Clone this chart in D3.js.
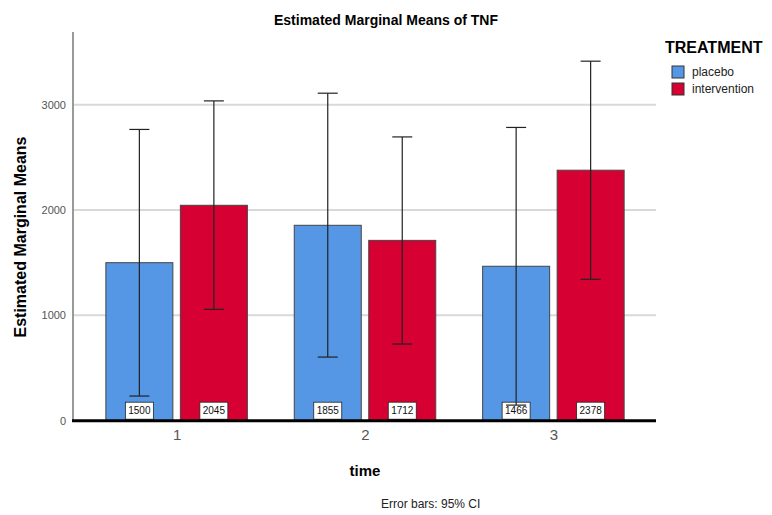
<!DOCTYPE html>
<meta charset='utf-8'>
<style>
  body { margin: 0; background: #fff; }
  text { font-family: "Liberation Sans", Arial, sans-serif; }
</style>
<svg width="772" height="515"></svg>
<script src="https://d3js.org/d3.v7.min.js"></script>
<script>

// data
var times = ["1", "2", "3"];
var groups = ["placebo", "intervention"];
var placeboMean = [1500, 1855, 1466];
var interventionMean = [2045, 1712, 2378];
var placeboLow = [234, 604, 148];
var placeboHigh = [2765, 3109, 2784];
var interventionLow = [1057, 728, 1342];
var interventionHigh = [3036, 2694, 3413];
var yTicks = [0, 1000, 2000, 3000];
var colors = ["#5596e5", "#d70032"];

var rows = [];
times.forEach(function(t, i) {
  rows.push({time: t, group: "placebo", mean: placeboMean[i], lo: placeboLow[i], hi: placeboHigh[i]});
  rows.push({time: t, group: "intervention", mean: interventionMean[i], lo: interventionLow[i], hi: interventionHigh[i]});
});

var svg = d3.select("svg");

var x = d3.scalePoint().domain(times).range([73, 657]).padding(0.55);
var y = d3.scaleLinear().domain([0, 3690]).range([420.7, 32]);
var color = d3.scaleOrdinal().domain(groups).range(colors);

var barW = 67, gap = 7.5;
function barX(d) {
  var c = x(d.time);
  return d.group == "placebo" ? c - gap / 2 - barW : c + gap / 2;
}

// gridlines
svg.append("g")
  .selectAll("line")
  .data(yTicks.filter(function(v) { return v > 0; }))
  .enter().append("line")
  .attr("x1", 73).attr("x2", 656)
  .attr("y1", function(d) { return y(d); })
  .attr("y2", function(d) { return y(d); })
  .style("stroke", "#d9d9d9")
  .style("stroke-width", 2);

// y axis
var yAxis = svg.append("g")
  .attr("transform", "translate(73,0)")
  .call(d3.axisLeft(y).tickValues(yTicks).tickFormat(d3.format("d")).tickSize(0).tickPadding(7));
yAxis.select(".domain").remove();
yAxis.selectAll("text")
  .style("font-size", "11px")
  .style("fill", "#555");

svg.append("line")
  .attr("x1", 73).attr("x2", 73)
  .attr("y1", y.range()[1]).attr("y2", y(0))
  .style("stroke", "#9a9a9a")
  .style("stroke-width", 2);

// bars
svg.append("g")
  .selectAll("rect")
  .data(rows)
  .enter().append("rect")
  .attr("x", barX)
  .attr("width", barW)
  .attr("y", function(d) { return y(d.mean); })
  .attr("height", function(d) { return y(0) - y(d.mean); })
  .style("fill", function(d) { return color(d.group); })
  .style("stroke", "#444")
  .style("stroke-width", 1);

// value labels
var lab = svg.append("g")
  .selectAll("g")
  .data(rows)
  .enter().append("g")
  .attr("transform", function(d) { return "translate(" + (barX(d) + barW / 2) + "," + (y(0) - 10) + ")"; });
lab.append("rect")
  .attr("x", -14).attr("y", -8.5)
  .attr("width", 28).attr("height", 17)
  .style("fill", "#fff")
  .style("stroke", "#222")
  .style("stroke-width", 0.8);
lab.append("text")
  .attr("text-anchor", "middle")
  .attr("dy", "0.35em")
  .style("font-size", "10px")
  .style("fill", "#111")
  .text(function(d) { return d.mean; });

// error bars
var eb = svg.append("g")
  .selectAll("g")
  .data(rows)
  .enter().append("g")
  .style("stroke", "#222")
  .style("stroke-width", 1.2);
eb.append("line")
  .attr("x1", function(d) { return barX(d) + barW / 2; })
  .attr("x2", function(d) { return barX(d) + barW / 2; })
  .attr("y1", function(d) { return y(d.hi); })
  .attr("y2", function(d) { return y(d.lo); });
eb.append("line")
  .attr("x1", function(d) { return barX(d) + barW / 2 - 10; })
  .attr("x2", function(d) { return barX(d) + barW / 2 + 10; })
  .attr("y1", function(d) { return y(d.hi); })
  .attr("y2", function(d) { return y(d.hi); });
eb.append("line")
  .attr("x1", function(d) { return barX(d) + barW / 2 - 10; })
  .attr("x2", function(d) { return barX(d) + barW / 2 + 10; })
  .attr("y1", function(d) { return y(d.lo); })
  .attr("y2", function(d) { return y(d.lo); });

// baseline
svg.append("line")
  .attr("x1", 72).attr("x2", 656)
  .attr("y1", y(0)).attr("y2", y(0))
  .style("stroke", "#000")
  .style("stroke-width", 3);

// x axis labels
var xAxis = svg.append("g")
  .attr("transform", "translate(0," + y(0) + ")")
  .call(d3.axisBottom(x).tickSize(0).tickPadding(9));
xAxis.select(".domain").remove();
xAxis.selectAll("text")
  .style("font-size", "15px")
  .style("fill", "#555");

// titles
svg.append("text")
  .attr("x", 386).attr("y", 25)
  .attr("text-anchor", "middle")
  .style("font-size", "14px")
  .style("font-weight", "bold")
  .text("Estimated Marginal Means of TNF");

svg.append("text")
  .attr("x", 365).attr("y", 476)
  .attr("text-anchor", "middle")
  .style("font-size", "15px")
  .style("font-weight", "bold")
  .text("time");

svg.append("text")
  .attr("transform", "translate(26,237) rotate(-90)")
  .attr("text-anchor", "middle")
  .style("font-size", "16px")
  .style("font-weight", "bold")
  .text("Estimated Marginal Means");

svg.append("text")
  .attr("x", 381).attr("y", 508)
  .style("font-size", "12px")
  .style("fill", "#222")
  .text("Error bars: 95% CI");

// legend
svg.append("text")
  .attr("x", 665).attr("y", 53)
  .style("font-size", "16px")
  .style("font-weight", "bold")
  .text("TREATMENT");

var leg = svg.append("g")
  .selectAll("g")
  .data(groups)
  .enter().append("g")
  .attr("transform", function(d, i) { return "translate(672," + (66 + i * 17) + ")"; });
leg.append("rect")
  .attr("width", 12).attr("height", 12)
  .style("fill", function(d) { return color(d); })
  .style("stroke", "#333");
leg.append("text")
  .attr("x", 20).attr("y", 10)
  .style("font-size", "12px")
  .style("fill", "#222")
  .text(function(d) { return d; });

</script>
